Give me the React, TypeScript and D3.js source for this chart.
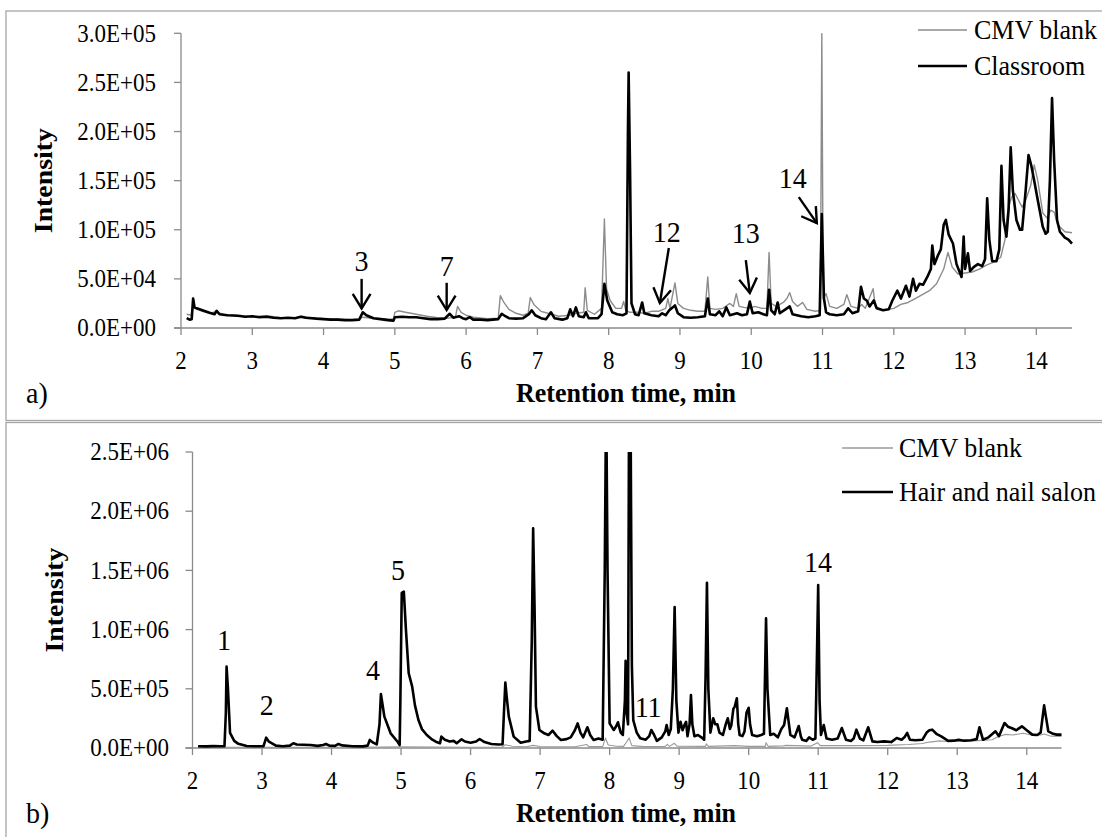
import React from "react";
import * as d3 from "d3";

// ---------- DATA (retention time [min], intensity) ----------
const xTicks = [2, 3, 4, 5, 6, 7, 8, 9, 10, 11, 12, 13, 14];
const yTicksA = [0, 50000, 100000, 150000, 200000, 250000, 300000];
const yTicksB = [0, 500000, 1000000, 1500000, 2000000, 2500000];

const seriesNamesA = ["CMV blank", "Classroom"];
const seriesNamesB = ["CMV blank", "Hair and nail salon"];

const classroom: [number, number][] = [
  [2.08, 10000], [2.12, 8500], [2.15, 9000], [2.17, 30000], [2.19, 21000], [2.22, 20000], [2.3, 18000], [2.4, 15500],
  [2.47, 14000], [2.5, 17500], [2.54, 14000], [2.65, 13000], [2.8, 12500], [2.9, 11500], [3.0, 12000], [3.1, 11000],
  [3.2, 11500], [3.3, 10500], [3.4, 10000], [3.5, 10500], [3.6, 10000], [3.68, 11500], [3.75, 10500], [3.9, 9500],
  [4.0, 9000], [4.1, 8500], [4.2, 8500], [4.3, 8000], [4.4, 8000], [4.5, 8500], [4.55, 16000], [4.6, 13000],
  [4.7, 10000], [4.8, 9000], [4.9, 8000], [4.98, 7500], [5.0, 11000], [5.1, 11500], [5.2, 11000], [5.3, 11000],
  [5.4, 10000], [5.5, 9000], [5.6, 9000], [5.7, 9500], [5.77, 14500], [5.82, 10500], [5.9, 12000], [5.95, 10000],
  [6.0, 9000], [6.05, 11000], [6.1, 8500], [6.2, 8500], [6.3, 8000], [6.45, 9000], [6.5, 14500], [6.55, 12000],
  [6.6, 10000], [6.7, 9500], [6.8, 10000], [6.88, 14000], [6.92, 18000], [6.97, 13000], [7.05, 10000], [7.12, 9000],
  [7.19, 16000], [7.24, 10000], [7.35, 8500], [7.42, 10000], [7.46, 19000], [7.5, 12000], [7.54, 21000], [7.58, 12000],
  [7.65, 11000], [7.68, 16000], [7.72, 10000], [7.85, 10000], [7.9, 14000], [7.94, 45000], [7.98, 28000], [8.05, 16000],
  [8.12, 14000], [8.2, 13000], [8.25, 15000], [8.27, 200000], [8.28, 260000], [8.3, 160000], [8.32, 25000], [8.37, 14000],
  [8.42, 13000], [8.47, 26000], [8.5, 15000], [8.6, 13000], [8.7, 12000], [8.75, 15000], [8.8, 13000], [8.85, 18000],
  [8.9, 21000], [8.93, 23000], [8.97, 15000], [9.05, 11000], [9.15, 10500], [9.25, 11000], [9.35, 12000], [9.39, 30000],
  [9.42, 14000], [9.5, 13000], [9.55, 17000], [9.6, 12000], [9.65, 21000], [9.7, 13000], [9.8, 15000], [9.87, 13000],
  [9.94, 14000], [9.98, 27000], [10.02, 15000], [10.1, 16000], [10.17, 14000], [10.22, 13000], [10.25, 39000], [10.28, 18000],
  [10.33, 14000], [10.37, 26000], [10.4, 15000], [10.48, 19000], [10.54, 22000], [10.58, 14000], [10.7, 12000], [10.8, 11000],
  [10.9, 12000], [10.96, 13000], [10.99, 116000], [11.02, 30000], [11.05, 16000], [11.1, 14000], [11.2, 13000], [11.3, 14000],
  [11.36, 20000], [11.42, 15000], [11.5, 17000], [11.54, 42000], [11.58, 30000], [11.62, 28000], [11.66, 22000], [11.72, 28000],
  [11.76, 20000], [11.85, 18000], [11.93, 19000], [11.98, 28000], [12.05, 38000], [12.1, 30000], [12.17, 43000], [12.22, 32000],
  [12.27, 50000], [12.31, 38000], [12.36, 45000], [12.41, 44000], [12.47, 52000], [12.52, 60000], [12.54, 84000], [12.57, 65000],
  [12.62, 74000], [12.66, 80000], [12.7, 105000], [12.73, 110000], [12.77, 95000], [12.83, 86000], [12.88, 65000], [12.95, 52000],
  [12.98, 93000], [13.0, 60000], [13.04, 76000], [13.07, 58000], [13.12, 62000], [13.18, 65000], [13.24, 63000], [13.28, 70000],
  [13.31, 132000], [13.34, 90000], [13.38, 68000], [13.44, 68000], [13.48, 80000], [13.51, 165000], [13.54, 110000], [13.58, 93000],
  [13.61, 120000], [13.64, 184000], [13.67, 140000], [13.72, 110000], [13.77, 100000], [13.8, 100000], [13.85, 140000], [13.89, 176000],
  [13.93, 165000], [13.97, 150000], [14.02, 130000], [14.09, 103000], [14.13, 96000], [14.16, 98000], [14.19, 150000], [14.22, 234000],
  [14.25, 170000], [14.29, 110000], [14.33, 98000], [14.4, 92000], [14.45, 90000], [14.5, 86000],
];

const blankA: [number, number][] = [
  [2.08, 14000], [2.15, 13000], [2.17, 22000], [2.2, 20000], [2.3, 17000], [2.4, 15000], [2.5, 16500], [2.6, 13500],
  [2.8, 12500], [3.0, 11500], [3.2, 12500], [3.4, 10500], [3.6, 10000], [3.7, 12000], [3.8, 10500], [4.0, 9500],
  [4.2, 9000], [4.4, 8500], [4.5, 9000], [4.55, 11000], [4.65, 10000], [4.8, 9500], [4.98, 9000], [5.0, 16000],
  [5.05, 17500], [5.15, 16000], [5.3, 14000], [5.45, 12000], [5.6, 10500], [5.75, 10000], [5.85, 11000], [5.88, 22000],
  [5.93, 16000], [6.0, 13000], [6.1, 11000], [6.3, 9500], [6.45, 10000], [6.48, 33000], [6.53, 26000], [6.6, 19000],
  [6.7, 15000], [6.8, 13000], [6.87, 15000], [6.9, 31000], [6.95, 24000], [7.05, 17000], [7.2, 14000], [7.3, 12000],
  [7.45, 13000], [7.55, 15000], [7.65, 16000], [7.67, 41000], [7.7, 18000], [7.8, 14000], [7.9, 20000], [7.94, 111000],
  [7.97, 40000], [8.02, 28000], [8.1, 20000], [8.18, 20000], [8.21, 27000], [8.24, 18000], [8.3, 16000], [8.4, 16000],
  [8.5, 15000], [8.6, 17000], [8.7, 17000], [8.8, 20000], [8.83, 30000], [8.86, 20000], [8.93, 46000], [8.97, 25000],
  [9.05, 20000], [9.15, 18000], [9.25, 17000], [9.35, 17000], [9.39, 52000], [9.42, 20000], [9.5, 19000], [9.6, 20000],
  [9.7, 25000], [9.75, 22000], [9.79, 35000], [9.83, 22000], [9.9, 21000], [9.98, 20000], [10.05, 22000], [10.15, 20000],
  [10.22, 20000], [10.25, 77000], [10.28, 25000], [10.35, 22000], [10.45, 26000], [10.5, 30000], [10.54, 36000], [10.58, 27000],
  [10.65, 22000], [10.72, 26000], [10.78, 19000], [10.9, 17000], [10.97, 18000], [10.99, 300000], [11.01, 30000], [11.05, 35000],
  [11.1, 22000], [11.2, 20000], [11.3, 24000], [11.34, 34000], [11.4, 22000], [11.5, 20000], [11.55, 24000], [11.6, 20000],
  [11.71, 40000], [11.74, 22000], [11.85, 18000], [12.0, 20000], [12.1, 24000], [12.2, 26000], [12.3, 30000], [12.4, 34000],
  [12.5, 38000], [12.6, 45000], [12.7, 60000], [12.76, 77000], [12.82, 62000], [12.9, 55000], [13.0, 56000], [13.1, 57000],
  [13.2, 60000], [13.3, 64000], [13.4, 67000], [13.5, 72000], [13.56, 90000], [13.6, 120000], [13.65, 133000], [13.7, 137000],
  [13.75, 130000], [13.8, 123000], [13.85, 130000], [13.92, 145000], [13.97, 166000], [14.02, 150000], [14.09, 117000], [14.15, 112000],
  [14.2, 120000], [14.25, 118000], [14.3, 105000], [14.4, 98000], [14.5, 97000],
];

const salon: [number, number][] = [
  [2.08, 15000], [2.2, 14000], [2.3, 16000], [2.4, 15000], [2.46, 16000], [2.48, 300000], [2.49, 687000], [2.51, 500000],
  [2.54, 127000], [2.6, 60000], [2.66, 35000], [2.78, 17000], [2.9, 15000], [3.02, 15000], [3.04, 50000], [3.06, 87000],
  [3.1, 53000], [3.2, 20000], [3.3, 15000], [3.4, 20000], [3.45, 40000], [3.5, 30000], [3.6, 28000], [3.7, 25000],
  [3.8, 18000], [3.88, 25000], [3.92, 34000], [3.97, 20000], [4.05, 18000], [4.1, 34000], [4.15, 22000], [4.3, 15000],
  [4.45, 14000], [4.52, 20000], [4.55, 68000], [4.6, 45000], [4.65, 30000], [4.69, 200000], [4.71, 456000], [4.73, 380000],
  [4.76, 265000], [4.85, 124000], [4.95, 53000], [4.98, 25000], [4.99, 400000], [5.01, 1310000], [5.04, 1320000], [5.07, 1000000],
  [5.11, 631000], [5.16, 518000], [5.2, 360000], [5.25, 236000], [5.3, 160000], [5.37, 110000], [5.45, 70000], [5.5, 53000],
  [5.56, 40000], [5.58, 96000], [5.63, 70000], [5.7, 55000], [5.76, 60000], [5.8, 40000], [5.87, 73000], [5.92, 55000],
  [6.0, 45000], [6.08, 55000], [6.13, 76000], [6.2, 50000], [6.3, 34000], [6.4, 30000], [6.46, 32000], [6.48, 300000],
  [6.5, 552000], [6.52, 430000], [6.55, 265000], [6.62, 96000], [6.72, 45000], [6.8, 55000], [6.85, 60000], [6.88, 900000],
  [6.9, 1855000], [6.92, 1200000], [6.94, 349000], [6.99, 152000], [7.06, 124000], [7.12, 110000], [7.18, 146000], [7.24, 100000],
  [7.3, 68000], [7.38, 75000], [7.44, 90000], [7.5, 150000], [7.54, 208000], [7.58, 130000], [7.62, 90000], [7.68, 175000],
  [7.72, 110000], [7.77, 68000], [7.84, 80000], [7.9, 70000], [7.93, 1500000], [7.95, 3000000], [7.97, 1500000], [8.0, 208000],
  [8.04, 170000], [8.06, 152000], [8.1, 190000], [8.12, 217000], [8.16, 130000], [8.19, 110000], [8.22, 400000], [8.23, 737000],
  [8.245, 300000], [8.265, 200000], [8.28, 3000000], [8.3, 3000000], [8.32, 700000], [8.34, 236000], [8.39, 130000], [8.44, 82000],
  [8.52, 70000], [8.57, 100000], [8.6, 152000], [8.64, 110000], [8.68, 60000], [8.75, 90000], [8.8, 140000], [8.82, 194000],
  [8.85, 110000], [8.88, 160000], [8.91, 500000], [8.935, 1190000], [8.96, 400000], [8.99, 130000], [9.02, 222000], [9.05, 150000],
  [9.08, 200000], [9.1, 220000], [9.12, 100000], [9.15, 200000], [9.17, 448000], [9.19, 200000], [9.22, 100000], [9.27, 110000],
  [9.32, 90000], [9.36, 70000], [9.38, 600000], [9.4, 1396000], [9.42, 500000], [9.45, 130000], [9.49, 251000], [9.52, 200000],
  [9.55, 200000], [9.58, 130000], [9.63, 110000], [9.67, 200000], [9.7, 251000], [9.73, 160000], [9.75, 190000], [9.78, 330000],
  [9.8, 349000], [9.83, 420000], [9.85, 200000], [9.87, 110000], [9.91, 100000], [9.94, 140000], [9.97, 300000], [10.0, 340000],
  [10.02, 200000], [10.05, 110000], [10.12, 100000], [10.18, 110000], [10.22, 120000], [10.235, 600000], [10.25, 1095000], [10.27, 500000],
  [10.31, 110000], [10.36, 120000], [10.42, 90000], [10.47, 160000], [10.51, 194000], [10.55, 335000], [10.58, 200000], [10.6, 110000],
  [10.66, 90000], [10.72, 186000], [10.75, 100000], [10.77, 70000], [10.83, 60000], [10.87, 90000], [10.92, 70000], [10.96, 80000],
  [10.98, 700000], [11.0, 1377000], [11.02, 400000], [11.04, 110000], [11.08, 194000], [11.12, 80000], [11.2, 70000], [11.28, 80000],
  [11.34, 169000], [11.4, 70000], [11.47, 60000], [11.51, 80000], [11.55, 155000], [11.6, 80000], [11.65, 65000], [11.72, 175000],
  [11.78, 56000], [11.85, 50000], [11.95, 56000], [12.05, 50000], [12.13, 84000], [12.2, 70000], [12.24, 90000], [12.28, 127000],
  [12.32, 70000], [12.4, 65000], [12.5, 70000], [12.56, 130000], [12.6, 150000], [12.64, 155000], [12.7, 120000], [12.77, 98000],
  [12.87, 60000], [12.95, 62000], [13.02, 70000], [13.1, 62000], [13.2, 65000], [13.28, 75000], [13.32, 175000], [13.37, 70000],
  [13.45, 90000], [13.55, 141000], [13.6, 100000], [13.68, 211000], [13.73, 180000], [13.78, 169000], [13.85, 150000], [13.93, 183000],
  [14.0, 150000], [14.08, 113000], [14.15, 110000], [14.2, 130000], [14.25, 360000], [14.28, 250000], [14.31, 141000], [14.38, 120000],
  [14.43, 113000], [14.5, 113000],
];

const blankB: [number, number][] = [
  [2.08, 5000], [2.5, 6000], [3.0, 5000], [4.0, 5000], [4.7, 8000], [5.0, 10000], [5.5, 8000], [6.0, 6000],
  [6.45, 6000], [6.5, 28000], [6.6, 15000], [6.8, 10000], [6.9, 22000], [7.0, 12000], [7.5, 10000], [7.67, 30000],
  [7.7, 12000], [7.9, 12000], [7.94, 84000], [7.98, 25000], [8.1, 15000], [8.2, 14000], [8.22, 30000], [8.28, 84000],
  [8.32, 20000], [8.5, 12000], [8.8, 13000], [8.83, 30000], [8.86, 14000], [8.93, 40000], [8.97, 15000], [9.38, 14000],
  [9.39, 35000], [9.42, 14000], [9.8, 20000], [10.0, 14000], [10.24, 14000], [10.25, 45000], [10.28, 14000], [10.5, 18000],
  [10.54, 22000], [10.9, 16000], [10.99, 45000], [11.03, 20000], [11.5, 20000], [12.0, 22000], [12.3, 30000], [12.5, 38000],
  [12.6, 50000], [12.75, 60000], [12.85, 55000], [13.0, 56000], [13.3, 62000], [13.5, 70000], [13.6, 100000], [13.7, 115000],
  [13.8, 110000], [13.95, 125000], [14.1, 105000], [14.2, 110000], [14.25, 118000], [14.35, 100000], [14.5, 97000],
];

// annotations: label position and arrow (tail -> tip) in data units
const annotationsA = [
  { label: "3", t: 4.534, v: 69000, arrow: [[4.534, 50000], [4.534, 20000]] },
  { label: "7", t: 5.727, v: 63000, arrow: [[5.727, 46000], [5.727, 18300]] },
  { label: "12", t: 8.816, v: 97600, arrow: [[8.844, 81400], [8.718, 25400]] },
  { label: "13", t: 9.924, v: 96600, arrow: [[9.924, 69200], [9.98, 35600]] },
  { label: "14", t: 10.583, v: 152600, arrow: [[10.667, 133200], [10.92, 106800]] },
];
const annotationsB = [
  { label: "1", t: 2.453, v: 912000 },
  { label: "2", t: 3.068, v: 363000 },
  { label: "4", t: 4.597, v: 659000 },
  { label: "5", t: 4.957, v: 1503000 },
  { label: "11", t: 8.554, v: 346000 },
  { label: "14", t: 10.996, v: 1574000 },
];

// ---------- helpers ----------
const FONT = "Liberation Serif, Times New Roman, serif";
const AXIS = "#8a8a8a";
const SY = 1.07; // slight vertical stretch of the glyphs, as in the reference
const fmtSci = (v: number) => {
  const [m, e] = v.toExponential(1).split("e");
  return `${m}E${e[0]}${e.slice(1).padStart(2, "0")}`;
};

function T(props: { x: number; y: number; size: number; anchor?: string; central?: boolean; bold?: boolean; rotate?: boolean; children: React.ReactNode }) {
  const { x, y, size, anchor, central, bold, rotate, children } = props;
  const tf = rotate ? `translate(${x},${y}) rotate(-90) scale(${SY},1)` : `translate(${x},${y}) scale(1,${SY})`;
  return (
    <text
      transform={tf}
      style={{ fontFamily: FONT }}
      fontSize={size}
      textAnchor={anchor || "start"}
      dominantBaseline={central ? "central" : "auto"}
      fontWeight={bold ? "bold" : "normal"}
    >
      {children}
    </text>
  );
}

type Ann = { label: string; t: number; v: number; arrow?: number[][] };

function Panel(props: {
  id: string; top: number; bottom: number; x0: number; x1: number; yMax: number; yTicks: number[];
  blank: [number, number][]; sample: [number, number][]; names: string[]; anns: Ann[];
  letter: string; labelRight: number; ylabX: number; legend: { x1: number; x2: number; tx: number; y1: number; y2: number };
  blankW: number; blankColor: string;
}) {
  const { id, top, bottom, x0, x1, yMax, yTicks, blank, sample, names, anns, letter, labelRight, ylabX, legend } = props;
  const x = d3.scaleLinear().domain([2, 14.5]).range([x0, x1]);
  const y = d3.scaleLinear().domain([0, yMax]).range([bottom, top]);
  const line = d3.line<[number, number]>().x((d) => x(d[0])).y((d) => y(d[1]));
  const midY = (top + bottom) / 2;
  return (
    <g>
      <defs>
        <clipPath id={id}>
          <rect x={x0} y={top} width={x1 - x0 + 2} height={bottom - top} />
        </clipPath>
      </defs>
      {/* axes */}
      <line x1={x0 - 7} x2={x1} y1={bottom} y2={bottom} stroke={AXIS} strokeWidth={1.3} />
      <line x1={x0} x2={x0} y1={top} y2={bottom} stroke={AXIS} strokeWidth={1.3} />
      {yTicks.map((t) => (
        <g key={t}>
          <line x1={x0 - 7} x2={x0} y1={y(t)} y2={y(t)} stroke={AXIS} strokeWidth={1.3} />
          <T x={labelRight} y={y(t)} size={23} anchor="end" central>{fmtSci(t)}</T>
        </g>
      ))}
      {xTicks.map((t) => (
        <g key={t}>
          <line x1={x(t)} x2={x(t)} y1={bottom} y2={bottom + 7} stroke={AXIS} strokeWidth={1.3} />
          <T x={x(t)} y={bottom + 33} size={23} anchor="middle" central>{t}</T>
        </g>
      ))}
      <T x={ylabX} y={midY} size={26} anchor="middle" bold rotate>Intensity</T>
      <T x={626} y={bottom + 74} size={26} anchor="middle" bold>Retention time, min</T>
      <T x={26} y={bottom + 75} size={28}>{letter}</T>
      {/* series */}
      <g clipPath={`url(#${id})`}>
        <path d={line(blank) || ""} fill="none" stroke={props.blankColor} strokeWidth={props.blankW} strokeLinejoin="round" />
        <path d={line(sample) || ""} fill="none" stroke="#000" strokeWidth={2.6} strokeLinejoin="round" />
      </g>
      {/* annotations */}
      {anns.map((a, i) => {
        let arrow = null;
        if (a.arrow) {
          const [p, q] = a.arrow;
          const px = x(p[0]), py = y(p[1]), qx = x(q[0]), qy = y(q[1]);
          const ang = Math.atan2(qy - py, qx - px);
          const L = 17, W = 0.55;
          const h1 = [qx - L * Math.cos(ang - W), qy - L * Math.sin(ang - W)];
          const h2 = [qx - L * Math.cos(ang + W), qy - L * Math.sin(ang + W)];
          arrow = (
            <g stroke="#000" strokeWidth={2.4} fill="none">
              <line x1={px} y1={py} x2={qx} y2={qy} />
              <polyline points={`${h1[0]},${h1[1]} ${qx},${qy} ${h2[0]},${h2[1]}`} />
            </g>
          );
        }
        return (
          <g key={i}>
            <T x={x(a.t)} y={y(a.v)} size={28} anchor="middle" central>{a.label}</T>
            {arrow}
          </g>
        );
      })}
      {/* legend */}
      <line x1={legend.x1} x2={legend.x2} y1={legend.y1} y2={legend.y1} stroke={props.blankColor} strokeWidth={props.blankW + 0.3} />
      <T x={legend.tx} y={legend.y1} size={26} central>{names[0]}</T>
      <line x1={legend.x1} x2={legend.x2} y1={legend.y2} y2={legend.y2} stroke="#000" strokeWidth={2.6} />
      <T x={legend.tx} y={legend.y2} size={26} central>{names[1]}</T>
    </g>
  );
}

export default function App() {
  return (
    <svg width={1102} height={837} style={{ position: "absolute", left: 0, top: 0, background: "#fff", fontFamily: FONT }}>
      <rect x={0} y={0} width={1102} height={837} fill="#fff" />
      <rect x={6} y={11} width={1110} height={409.5} fill="none" stroke="#a6a6a6" strokeWidth={1.3} />
      <rect x={6} y={422.5} width={1110} height={430} fill="none" stroke="#a6a6a6" strokeWidth={1.3} />
      <Panel
        id="clipA" top={33.3} bottom={328} x0={181} x1={1072} yMax={300000} yTicks={yTicksA}
        blank={blankA} sample={classroom} names={seriesNamesA} anns={annotationsA}
        letter="a)" labelRight={156} ylabX={52}
        legend={{ x1: 918, x2: 967, tx: 974, y1: 30, y2: 66 }}
        blankW={1.4} blankColor="#8c8c8c"
      />
      <Panel
        id="clipB" top={452} bottom={748} x0={192.5} x1={1061.5} yMax={2500000} yTicks={yTicksB}
        blank={blankB} sample={salon} names={seriesNamesB} anns={annotationsB}
        letter="b)" labelRight={169} ylabX={63}
        legend={{ x1: 842, x2: 893, tx: 899, y1: 448, y2: 492 }}
        blankW={1.1} blankColor="#9a9a9a"
      />
    </svg>
  );
}
